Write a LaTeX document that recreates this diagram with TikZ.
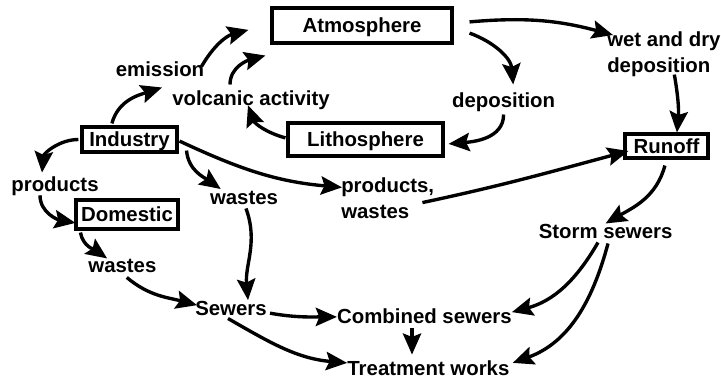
\documentclass[tikz,border=0pt]{standalone}
\usepackage{fontspec}
\setmainfont{Liberation Sans}
\usetikzlibrary{arrows.meta}
\tikzset{
	%boxes and loose labels, same bold font everywhere
	comp/.style = {draw=black, line width=2.2pt, inner sep=0pt,
                   font=\bfseries\fontsize{14.5}{18.5}\selectfont,
                   text height=10.4pt, text depth=0pt},
	lbl/.style  = {inner sep=0pt, align=left,
                   font=\bfseries\fontsize{14.5}{18.5}\selectfont},
	flow/.style = {draw, line width=2.4pt,
                   -{Stealth[length=15pt, width=13pt, inset=2.5pt]}}
}
\begin{document}
\begin{tikzpicture}
	\useasboundingbox (0,0) rectangle (18.025,9.525);
	%nodes
	\node[comp, minimum width=4.5cm,   minimum height=0.875cm] (atm)  at (9.05, 8.8875)   {Atmosphere};
	\node[comp, minimum width=3.875cm, minimum height=0.825cm] (lith) at (9.1375, 6.0375) {Lithosphere};
	\node[comp, minimum width=2.375cm, minimum height=0.625cm] (ind)  at (3.2375, 6.0375) {Industry};
	\node[comp, minimum width=2.55cm,  minimum height=0.725cm] (dom)  at (3.175, 4.1625)  {Domestic};
	\node[comp, minimum width=2.075cm, minimum height=0.6cm]   (run)  at (16.6625, 5.875) {Runoff};
	\node[lbl, anchor=base] (emis)  at (4.0, 7.6)     {emission};
	\node[lbl, anchor=base] (volc)  at (6.275, 6.875) {volcanic activity};
	\node[lbl, anchor=base] (dep)   at (12.59, 6.825) {deposition};
	\node[lbl, anchor=north west] (wet) at (15.175, 8.74) {wet and dry\\deposition};
	\node[lbl, anchor=base] (prod)  at (1.375, 4.725) {products};
	\node[lbl, anchor=base] (wind)  at (6.1, 4.4)     {wastes};
	\node[lbl, anchor=north west] (pw) at (8.525, 5.09) {products,\\wastes};
	\node[lbl, anchor=base] (wdom)  at (3.06, 2.725)  {wastes};
	\node[lbl, anchor=base] (sew)   at (5.775, 1.65)  {Sewers};
	\node[lbl, anchor=base] (comb)  at (10.61, 1.45)  {Combined sewers};
	\node[lbl, anchor=base] (treat) at (10.71, 0.15)  {Treatment works};
	\node[lbl, anchor=base] (storm) at (15.14, 3.575) {Storm sewers};
	%arrows
	\path ([xshift=-0.44cm, yshift=0.05cm]ind.north) edge[flow, out=75, in=198] ([xshift=0.05cm, yshift=-0.25cm]emis.south)
	      ([xshift=-0.075cm, yshift=-0.115cm]emis.north east) edge[flow, out=60, in=195] ([xshift=-0.55cm, yshift=-0.11cm]atm.west)
	      ([xshift=-0.525cm, yshift=0.16cm]volc.north) edge[flow, out=90, in=195] ([xshift=-0.125cm, yshift=-0.275cm]atm.south west)
	      ([xshift=-0.025cm, yshift=0.04cm]lith.west) edge[flow, out=165, in=-70] ([xshift=-0.075cm, yshift=0.13cm]volc.south);
	\path ([xshift=0.4cm, yshift=-0.19cm]atm.east) edge[flow, out=-20, in=95] ([xshift=0.24cm, yshift=0.21cm]dep.north)
	      ([yshift=-0.05cm]dep.south) edge[flow, out=-90, in=5] ([xshift=0.1cm, yshift=-0.11cm]lith.east)
	      ([xshift=0.4cm, yshift=0.09cm]atm.east) edge[flow, out=5, in=165] ([xshift=0.15cm, yshift=-0.09cm]wet.north west)
	      ([xshift=0.26cm, yshift=0.06cm]wet.south) edge[flow, out=-80, in=85] ([xshift=0.26cm]run.north);
	\path ([xshift=-0.05cm]ind.west) edge[flow, out=180, in=85] ([xshift=-0.325cm, yshift=0.11cm]prod.north)
	      ([xshift=-0.375cm, yshift=0.03cm]prod.south) edge[flow, out=-90, in=170] ([xshift=0.025cm, yshift=-0.21cm]dom.west)
	      ([xshift=0.15cm, yshift=-0.05cm]dom.south west) edge[flow, out=-80, in=145] ([xshift=0.475cm]wdom.north west)
	      ([xshift=0.11cm, yshift=-0.125cm]wdom.south) edge[flow, out=-40, in=165] ([xshift=0.05cm, yshift=0.07cm]sew.west);
	\path ([xshift=0.2cm, yshift=0.075cm]ind.south east) edge[flow, out=-85, in=145] ([xshift=0.275cm, yshift=0.06cm]wind.north west)
	      ([xshift=0.05cm, yshift=-0.075cm]wind.south) edge[flow, out=-70, in=95] ([xshift=0.425cm, yshift=0.01cm]sew.north)
	      ([xshift=0.025cm, yshift=-0.04cm]ind.east) edge[flow, out=-25, in=175] ([xshift=0.025cm, yshift=0.27cm]pw.west)
	      ([xshift=-0.3cm, yshift=-0.11cm]pw.east) edge[flow, out=12, in=195] ([xshift=0.125cm, yshift=-0.125cm]run.west);
	\path ([xshift=-0.04cm, yshift=-0.15cm]run.south) edge[flow, out=-105, in=30] (storm.north)
	      ([xshift=-0.19cm, yshift=-0.1cm]storm.south) edge[flow, out=-120, in=15] ([yshift=0.09cm]comb.east)
	      ([xshift=0.06cm, yshift=-0.125cm]storm.south) edge[flow, out=-105, in=20] ([xshift=0.075cm, yshift=0.12cm]treat.east);
	\path ([xshift=0.075cm, yshift=-0.13cm]sew.east) edge[flow, out=-10, in=180] ([yshift=-0.03cm]comb.west)
	      ([xshift=-0.075cm, yshift=-0.075cm]sew.south) edge[flow, out=-30, in=175] ([yshift=0.12cm]treat.west)
	      ([xshift=-0.31cm, yshift=-0.125cm]comb.south) edge[flow] ([xshift=-0.41cm, yshift=0.135cm]treat.north);
\end{tikzpicture}
\end{document}
